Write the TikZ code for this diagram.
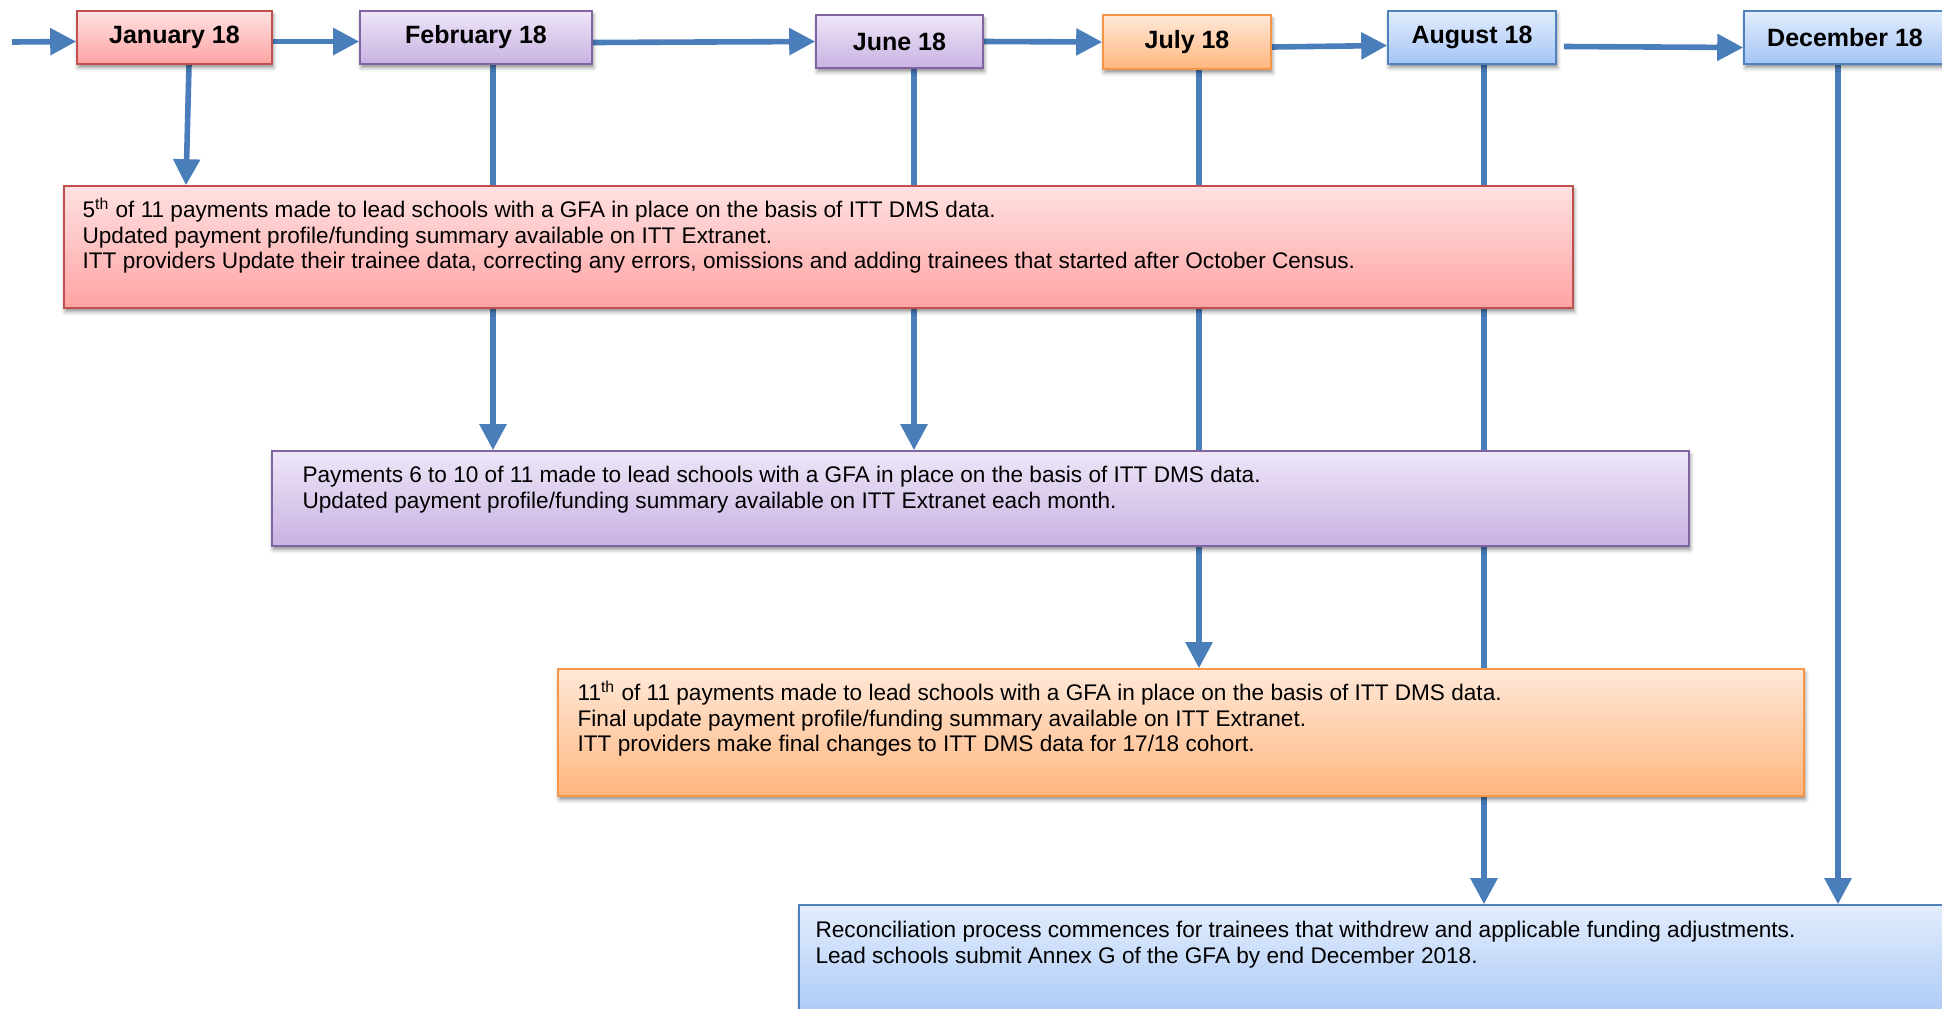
\documentclass[tikz,border=0pt]{standalone}
\usepackage{fontspec}
\setmainfont{Liberation Sans}
\usetikzlibrary{arrows.meta,shadows.blur,calc}
\definecolor{arrowblue}{HTML}{4A7EBB}
\definecolor{redtop}{HTML}{FFE1E1}
\definecolor{redbot}{HTML}{FFA3A3}
\definecolor{redline}{HTML}{C0504D}
\definecolor{purtop}{HTML}{EEE6F8}
\definecolor{purbot}{HTML}{C8B2E2}
\definecolor{purline}{HTML}{8064A2}
\definecolor{oratop}{HTML}{FFE8D8}
\definecolor{orabot}{HTML}{FFB67E}
\definecolor{oraline}{HTML}{F79646}
\definecolor{blutop}{HTML}{E2EDFD}
\definecolor{blubot}{HTML}{A5C5F6}
\definecolor{bluline}{HTML}{4F81BD}
\pgfdeclarelayer{bg}
\pgfsetlayers{bg,main}
\tikzset{
  box/.style={rectangle, inner sep=0pt, line width=0.8pt,
    blur shadow={shadow xshift=0.6pt, shadow yshift=-1.8pt, shadow blur radius=2pt, shadow opacity=45}},
  redbox/.style={box, draw=redline, top color=redtop, bottom color=redbot},
  purbox/.style={box, draw=purline, top color=purtop, bottom color=purbot},
  orabox/.style={box, draw=oraline, top color=oratop, bottom color=orabot},
  blubox/.style={box, draw=bluline, top color=blutop, bottom color=blubot},
  month/.style={font=\bfseries\fontsize{12.5}{14}\selectfont, minimum height=26.5pt},
  body/.style={anchor=north west, inner sep=0pt, align=left, font=\fontsize{11.3}{12.7}\selectfont},
  flow/.style={draw=arrowblue, line width=2.8pt, -{Triangle[length=13pt,width=13pt]}},
}
\newcommand{\firstline}{\rule{0pt}{10pt}}
\begin{document}
\begin{tikzpicture}[x=0.5pt,y=-0.5pt]
\useasboundingbox (0,0) rectangle (1942,1008);
\clip (0,0) rectangle (1942,1008);
% month boxes
\node[month, redbox, minimum width=97.5pt] (jan) at (174.5,37.5) {January 18};
\node[month, purbox, minimum width=116pt] (feb) at (476,37.5) {February 18};
\node[month, purbox, minimum width=83.5pt] (jun) at (899.5,41.5) {June 18};
\node[month, orabox, minimum width=84pt, minimum height=27pt] (jul) at (1187,42) {July 18};
\node[month, blubox, minimum width=84pt] (aug) at (1472,37.5) {August 18};
\node[month, blubox, minimum width=101pt] (dec) at (1845,37.5) {December 18};
% big boxes
\node[redbox, minimum width=754.5pt, minimum height=61pt] (red) at (818.5,247) {};
\node[purbox, minimum width=708.5pt, minimum height=47.5pt] (pur) at (980.5,498.5) {};
\node[orabox, minimum width=623pt, minimum height=63.5pt] (ora) at (1181,732.5) {};
\node[blubox, minimum width=580.5pt, minimum height=62.5pt] (blu) at (1379.5,967.5) {};
% texts
\node[body] (redtxt) at ([xshift=9.5pt,yshift=-6pt]red.north west)
  {\firstline 5\textsuperscript{th} of 11 payments made to lead schools with a GFA in place on the basis of ITT DMS data.\\
   Updated payment profile/funding summary available on ITT Extranet.\\
   ITT providers Update their trainee data, correcting any errors, omissions and adding trainees that started after October Census.};
\node[body] (purtxt) at ([xshift=15.5pt,yshift=-6pt]pur.north west)
  {\firstline Payments 6 to 10 of 11 made to lead schools with a GFA in place on the basis of ITT DMS data.\\
   Updated payment profile/funding summary available on ITT Extranet each month.};
\node[body] (oratxt) at ([xshift=10pt,yshift=-6pt]ora.north west)
  {\firstline 11\textsuperscript{th} of 11 payments made to lead schools with a GFA in place on the basis of ITT DMS data.\\
   Final update payment profile/funding summary available on ITT Extranet.\\
   ITT providers make final changes to ITT DMS data for 17/18 cohort.};
\node[body] (blutxt) at ([xshift=8.5pt,yshift=-6.5pt]blu.north west)
  {\firstline Reconciliation process commences for trainees that withdrew and applicable funding adjustments.\\
   Lead schools submit Annex G of the GFA by end December 2018.};
% connectors
\begin{pgfonlayer}{bg}
\coordinate (start) at (12,42);
\draw[flow] (start) -- ([yshift=-2pt]jan.west);
\draw[flow] ([yshift=-2pt]jan.east) -- ([yshift=-2pt]feb.west);
\draw[flow] ([yshift=-2.5pt]feb.east) -- (jun.west);
\draw[flow] (jun.east) -- (jul.west);
\draw[flow] ([yshift=-2.5pt]jul.east) -- ([yshift=-4pt]aug.west);
\draw[flow] ([xshift=3.5pt,yshift=-4.5pt]aug.east) -- ([yshift=-5pt]dec.west);
\draw[flow] ([xshift=7.25pt]jan.south) -- ([xshift=5.75pt]jan.south |- red.north);
\draw[flow] ([xshift=8.5pt]feb.south) -- ([xshift=8.5pt]feb.south |- pur.north);
\draw[flow] ([xshift=7.25pt]jun.south) -- ([xshift=7.25pt]jun.south |- pur.north);
\draw[flow] ([xshift=6pt]jul.south) -- ([xshift=6pt]jul.south |- ora.north);
\draw[flow] ([xshift=6pt]aug.south) -- ([xshift=6pt]aug.south |- blu.north);
\draw[flow] ([xshift=-3.5pt]dec.south) -- ([xshift=-3.5pt]dec.south |- blu.north);
\end{pgfonlayer}
\end{tikzpicture}
\end{document}
